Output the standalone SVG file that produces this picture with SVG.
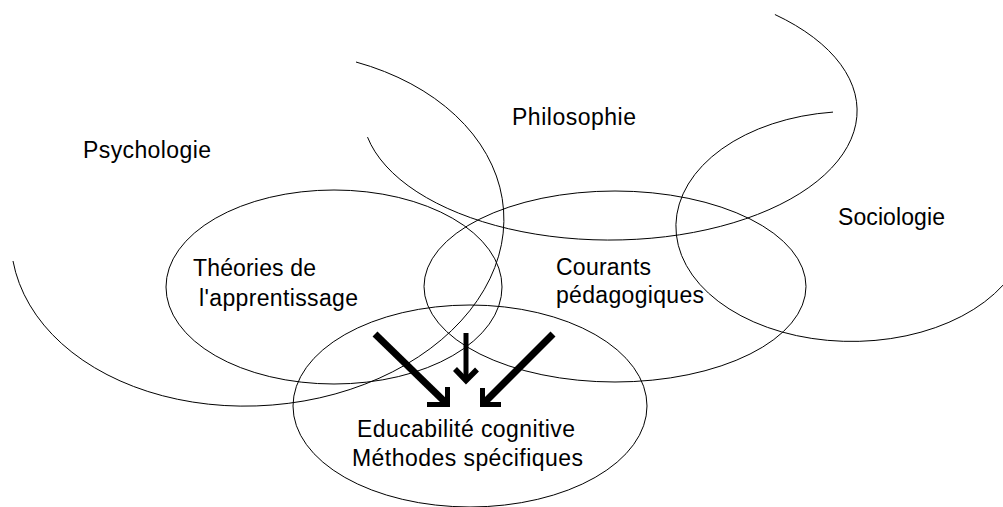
<svg xmlns="http://www.w3.org/2000/svg" width="1003" height="507" viewBox="0 0 1003 507">
<style>
.shape{fill:none;stroke:#000;stroke-width:1}
.lbl{font-family:"Liberation Sans",Arial,Helvetica,sans-serif;font-size:23px;fill:#000}
.arr{fill:none;stroke:#000;stroke-linejoin:miter;stroke-linecap:butt}
</style>
<rect width="1003" height="507" fill="#fff"/>
<g id="psychologie">
<path class="shape" d="M356,62 A246.9,177.3 -4.36 1 1 13,261"/>
<text class="lbl" x="83" y="158" textLength="128" lengthAdjust="spacing">Psychologie</text>
</g>
<g id="philosophie">
<path class="shape" d="M367.5,137.1 A247.4,129.3 0 1 0 774.9,14.5"/>
<text class="lbl" x="512" y="125" textLength="124" lengthAdjust="spacing">Philosophie</text>
</g>
<g id="sociologie">
<path class="shape" d="M833,112.1 A175.9,115 0 1 0 1021.7,256.2"/>
<text class="lbl" x="838" y="225" textLength="107" lengthAdjust="spacing">Sociologie</text>
</g>
<g id="theories">
<ellipse class="shape" cx="334" cy="287" rx="168" ry="97"/>
<text class="lbl" x="193" y="276" textLength="123" lengthAdjust="spacing">Théories de</text>
<text class="lbl" x="199" y="306" textLength="159" lengthAdjust="spacing">l'apprentissage</text>
</g>
<g id="courants">
<ellipse class="shape" cx="615" cy="286.5" rx="191" ry="95.5"/>
<text class="lbl" x="556" y="275" textLength="95" lengthAdjust="spacing">Courants</text>
<text class="lbl" x="556" y="303" textLength="148" lengthAdjust="spacing">pédagogiques</text>
</g>
<g id="educabilite">
<ellipse class="shape" cx="470" cy="406" rx="177" ry="101"/>
<text class="lbl" x="357" y="437" textLength="218" lengthAdjust="spacing">Educabilité cognitive</text>
<text class="lbl" x="352" y="466" textLength="231" lengthAdjust="spacing">Méthodes spécifiques</text>
</g>
<g id="connectors">
<path class="arr" stroke-width="7" d="M375,334 L446,403"/>
<path class="arr" stroke-width="5" d="M427,404.5 H447.5 V387"/>
<path class="arr" stroke-width="5" d="M466,333 V380"/>
<path class="arr" stroke-width="5.5" d="M455,369 L466,380.5 L477,369.5"/>
<path class="arr" stroke-width="7" d="M553,334 L484,403"/>
<path class="arr" stroke-width="5" d="M482.5,388 V404.5 H501"/>
</g>
</svg>
